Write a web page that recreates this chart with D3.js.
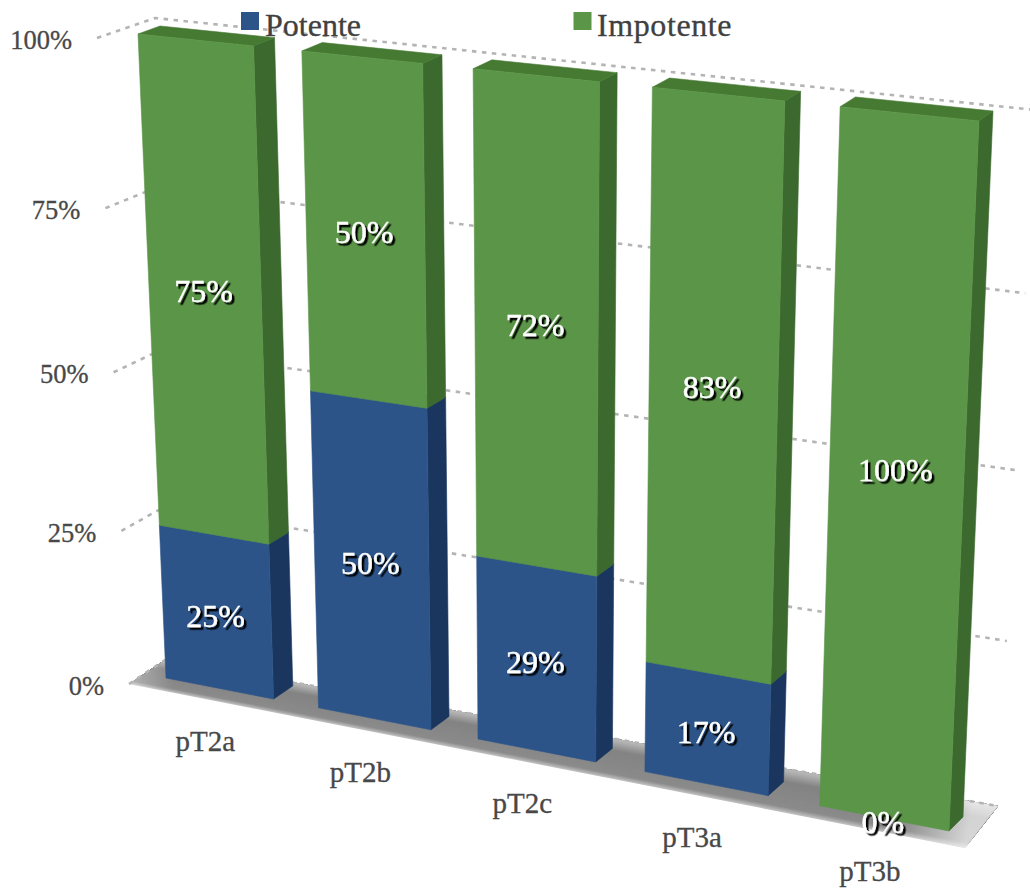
<!DOCTYPE html>
<html>
<head>
<meta charset="utf-8">
<script src="https://cdn.jsdelivr.net/npm/d3@7/dist/d3.min.js"></script>
<style>
  html, body { margin: 0; padding: 0; background: #fff; }
  text { font-family: "Liberation Serif", serif; }
</style>
</head>
<body>
<svg id="chart" width="1030" height="892"></svg>
<script>
// Chart data
const categories = ["pT2a", "pT2b", "pT2c", "pT3a", "pT3b"];
const potente = [25, 50, 29, 17, 0];
const impotente = [75, 50, 72, 83, 100];
const seriesNames = ["Potente", "Impotente"];
const tickValues = [0, 0.25, 0.5, 0.75, 1];
const tickLabels = ["0%", "25%", "50%", "75%", "100%"];

// Palette per series: front, top and side faces of the blocks
const faces = {
  Potente: { front: "#2c5489", top: "#234670", side: "#1a365f" },
  Impotente: { front: "#5b9548", top: "#467a33", side: "#3b692e" }
};

// The plot volumes: outer frame (floor and walls) and the block volume inside it
const frameBox = {
  fbl: [129, 684], fbr: [965, 848], ftl: [97, 38], ftr: [996, 136],
  bbl: [165, 660], bbr: [998, 806], btl: [155, 18], btr: [1035, 110]
};
const blockBox = {
  fbl: [166, 678], fbr: [949, 831], ftl: [138, 34], ftr: [979, 121],
  bbl: [186, 665], bbr: [963, 817], btl: [160, 26], btr: [993, 111]
};

// Perspective foreshortening of a unit interval
const foreshorten = r => t => t / (t + r * (1 - t));
const warpX = foreshorten(1.114);
const warpY = foreshorten(1.0725);

const mix = (a, b, t) => d3.interpolateArray(a, b)(t);

// Position inside a volume from already foreshortened coordinates
function place(box, su, sv, w) {
  const front = mix(mix(box.fbl, box.fbr, su), mix(box.ftl, box.ftr, su), sv);
  const back = mix(mix(box.bbl, box.bbr, su), mix(box.btl, box.btr, su), sv);
  return mix(front, back, w);
}
const project = (box, u, v, w) => place(box, warpX(u), warpY(v), w);

const xBand = d3.scaleBand().domain(categories).range([0, 1]).paddingInner(0.29).paddingOuter(0);
const yValue = d3.scaleLinear().domain([0, 1]).range([0, 1]);

const rows = categories.map((c, i) => ({ category: c, Potente: potente[i], Impotente: impotente[i] }));
const stacked = d3.stack().keys(seriesNames).offset(d3.stackOffsetExpand)(rows);

const svg = d3.select("#chart");
const defs = svg.append("defs");
const line = d3.line();
const closed = pts => line(pts) + "Z";

// Floor: overlapping strips painted front to back, shaded by depth
const floorShade = d3.scaleLinear()
  .domain([0, 0.12, 0.7, 1])
  .range(["#c4c4c4", "#8b8b8b", "#838383", "#bcbcbc"]);
const stripCount = 36;
d3.range(stripCount).forEach(k => {
  svg.append("path").attr("fill", floorShade((k + 0.5) / stripCount)).attr("d", closed([
    project(frameBox, 0, 0, k / stripCount), project(frameBox, 1, 0, k / stripCount),
    project(frameBox, 1, 0, 1), project(frameBox, 0, 0, 1)
  ]));
});

// White wash fading the two ends of the floor
const floorCorners = [[0, 0], [1, 0], [1, 1], [0, 1]].map(([u, w]) => project(frameBox, u, 0, w));
const endGrad = defs.append("linearGradient").attr("id", "floorEnds")
  .attr("gradientUnits", "userSpaceOnUse")
  .attr("x1", floorCorners[0][0]).attr("y1", floorCorners[0][1])
  .attr("x2", floorCorners[1][0]).attr("y2", floorCorners[1][1]);
[[0, 0.35], [0.05, 0], [0.92, 0], [1, 0.65]].forEach(([o, a]) =>
  endGrad.append("stop").attr("offset", o).attr("stop-color", "#fff").attr("stop-opacity", a));
svg.append("path").attr("d", closed(floorCorners)).attr("fill", "url(#floorEnds)");

// Dotted gridlines along the left and back walls
const grid = svg.append("g").attr("fill", "none").attr("stroke", "#b4b4b4")
  .attr("stroke-width", 2.6).attr("stroke-dasharray", "4.5 5.5");
tickValues.forEach(t => {
  const v = yValue(t);
  grid.append("path").attr("d", line([
    project(frameBox, 0, v, 0), project(frameBox, 0, v, 1), project(frameBox, 1, v, 1)
  ]));
});

// Value axis labels
svg.append("g").attr("fill", "#484848").attr("stroke", "#484848").attr("stroke-width", 0.3)
  .attr("font-size", 26.5).attr("text-anchor", "end")
  .selectAll("text").data(tickValues).join("text")
  .attr("x", t => project(frameBox, 0, yValue(t), 0)[0] - 25)
  .attr("y", t => project(frameBox, 0, yValue(t), 0)[1] + 11)
  .text((t, i) => tickLabels[i]);

// One block per category: side, top and front faces of each stacked segment.
// A hairline stroke in the face colour closes the seams between adjoining faces.
const blocks = svg.append("g").attr("stroke-width", 0.6).attr("stroke-linejoin", "round");
categories.forEach((c, i) => {
  const u0 = xBand(c), u1 = u0 + xBand.bandwidth();
  seriesNames.forEach((name, s) => {
    const [y0, y1] = stacked[s][i];
    if (y1 - y0 <= 0) return;
    const v0 = yValue(y0), v1 = yValue(y1);
    const col = faces[name];
    const g = blocks.append("g");
    g.append("path").attr("fill", col.side).attr("stroke", col.side).attr("d", closed([
      project(blockBox, u1, v0, 0), project(blockBox, u1, v0, 1),
      project(blockBox, u1, v1, 1), project(blockBox, u1, v1, 0)
    ]));
    g.append("path").attr("fill", col.top).attr("stroke", col.top).attr("d", closed([
      project(blockBox, u0, v1, 0), project(blockBox, u1, v1, 0),
      project(blockBox, u1, v1, 1), project(blockBox, u0, v1, 1)
    ]));
    g.append("path").attr("fill", col.front).attr("stroke", col.front).attr("d", closed([
      project(blockBox, u0, v0, 0), project(blockBox, u1, v0, 0),
      project(blockBox, u1, v1, 0), project(blockBox, u0, v1, 0)
    ]));
  });
});

// Value labels centred on each front face, with a hard black drop shadow
const shadow = defs.append("filter").attr("id", "labelShadow")
  .attr("x", "-10%").attr("y", "-10%").attr("width", "125%").attr("height", "125%");
shadow.append("feDropShadow").attr("dx", 2.5).attr("dy", 2.5).attr("stdDeviation", 0.2)
  .attr("flood-color", "#000").attr("flood-opacity", 1);
const labels = svg.append("g").attr("fill", "#fff").attr("stroke", "#fff").attr("stroke-width", 0.4)
  .attr("font-size", 32).attr("text-anchor", "middle").attr("filter", "url(#labelShadow)");
const labelValues = { Potente: potente, Impotente: impotente };
categories.forEach((c, i) => {
  const su = warpX(xBand(c) + xBand.bandwidth() / 2);
  seriesNames.forEach((name, s) => {
    const [y0, y1] = stacked[s][i];
    const sv = (warpY(yValue(y0)) + warpY(yValue(y1))) / 2;
    const p = place(blockBox, su, sv, 0);
    labels.append("text").attr("x", p[0] - 1).attr("y", p[1] + 15)
      .text(labelValues[name][i] + "%");
  });
});

// Category labels below the floor
svg.append("g").attr("fill", "#484848").attr("stroke", "#484848").attr("stroke-width", 0.3)
  .attr("font-size", 29).attr("text-anchor", "middle")
  .selectAll("text").data(categories).join("text")
  .attr("x", c => project(blockBox, xBand(c) + xBand.bandwidth() / 2, 0, 0)[0] - 14)
  .attr("y", c => project(blockBox, xBand(c) + xBand.bandwidth() / 2, 0, 0)[1] + 63)
  .text(c => c);

// Legend
const legendItems = [
  { name: "Potente", sx: 241, tx: 265, spacing: 0 },
  { name: "Impotente", sx: 573.5, tx: 597, spacing: 0.6 }
];
const legend = svg.append("g");
legend.selectAll("rect").data(legendItems).join("rect")
  .attr("x", d => d.sx).attr("y", 12).attr("width", 18).attr("height", 18)
  .attr("fill", d => faces[d.name].front);
legend.selectAll("text").data(legendItems).join("text")
  .attr("x", d => d.tx).attr("y", 35.5).attr("font-size", 32)
  .attr("letter-spacing", d => d.spacing)
  .attr("fill", "#404040").attr("stroke", "#404040").attr("stroke-width", 0.3)
  .text(d => d.name);
</script>
</body>
</html>
